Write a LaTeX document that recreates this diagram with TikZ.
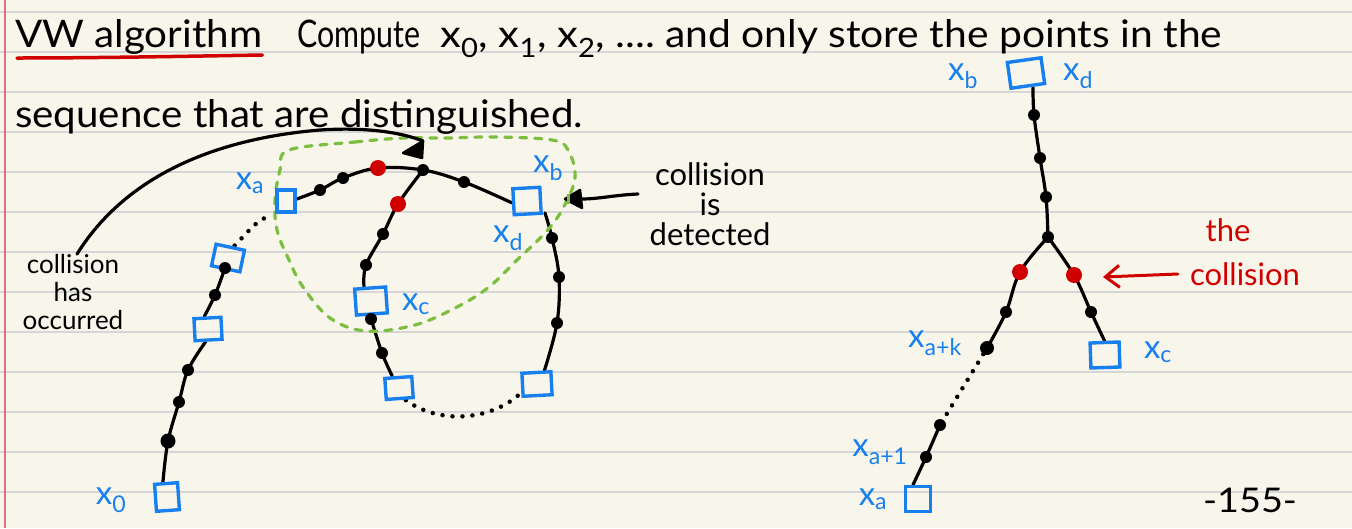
\documentclass[tikz,border=0pt]{standalone}
\usepackage{fontspec}
\setmainfont{Lato}
\usepackage{graphicx}
\usetikzlibrary{arrows.meta}
\pgfdeclarelayer{bglayer}
\pgfdeclarelayer{linelayer}
\pgfsetlayers{bglayer,linelayer,main}
\definecolor{paperc}{RGB}{248,246,234}
\definecolor{rulec}{RGB}{214,214,214}
\definecolor{marginc}{RGB}{228,112,125}
\definecolor{inkblue}{RGB}{24,128,238}
\definecolor{inkred}{RGB}{208,0,0}
\definecolor{inkgreen}{RGB}{124,190,64}
\newcommand{\hwfit}[2]{\resizebox{#1}{\height}{#2}}
\begin{document}
\begin{tikzpicture}[x=1pt,y=-1pt,
  txt/.style={inner sep=0pt, font=\fontsize{38}{40}\selectfont, anchor=base west},
  lbl/.style={inner sep=0pt, text=inkblue, font=\fontsize{33}{35}\selectfont},
  note/.style={inner sep=0pt, font=\fontsize{26}{28}\selectfont, align=center},
  sbox/.style={draw=inkblue, line width=3.4pt, inner sep=0pt, minimum width=24pt, minimum height=24pt},
  bdot/.style={circle, fill=black, inner sep=0pt, minimum size=12pt},
  rdot/.style={circle, fill=inkred, inner sep=0pt, minimum size=16pt},
  ink/.style={line width=3.2pt, line cap=round, line join=round},
  dotline/.style={line width=4.5pt, line cap=round, dash pattern=on 0pt off 10pt},
  gdash/.style={draw=inkgreen, line width=3.2pt, dash pattern=on 7pt off 8pt, line cap=round},
]
\useasboundingbox (0,0) rectangle (1352,528);
\begin{pgfonlayer}{bglayer}
  \fill[paperc] (0,0) rectangle (1352,528);
  \foreach \yy in {12,52,...,492} \draw[rulec, line width=1.6pt] (0,\yy) -- (1352,\yy);
  \draw[marginc, line width=1.6pt] (5,0) -- (5,528);
\end{pgfonlayer}

% heading text
\node[txt] (t1) at (15,47) {\hwfit{247pt}{VW algorithm}};
\node[txt] (t2) at (297,47) {\hwfit{123pt}{Compute}};
\node[txt] (t3) at (440,47) {\hwfit{215pt}{x\textsubscript{0}, x\textsubscript{1}, x\textsubscript{2}, ....}};
\node[txt] (t4) at (665,47) {\hwfit{557pt}{and only store the points in the}};
\node[txt] (t5) at (15,127) {\hwfit{568pt}{sequence that are distinguished.}};
\draw[inkred, line width=3.5pt, line cap=round] ([shift={(2pt,-11pt)}]t1.base west) .. controls (100,58) and (200,56) .. ([shift={(0pt,-8pt)}]t1.base east);

% left diagram nodes
\node[sbox, minimum width=23pt, minimum height=27pt, rotate=4] (x0) at (167,497) {};
\node[lbl] (lx0) at (111,500) {x\textsubscript{0}};
\node[bdot, minimum size=15pt] (a1) at (168,441) {};
\node[bdot] (a2) at (179,402) {};
\node[bdot] (a3) at (188,370) {};
\node[sbox, minimum width=27pt, minimum height=22pt, rotate=3] (b1) at (208,329) {};
\node[bdot] (a4) at (215,295) {};
\node[sbox, minimum width=29pt, minimum height=22pt, rotate=-12] (b2) at (228,258) {};
\node[bdot] (a5) at (225,268) {};
\node[sbox, minimum width=18pt, minimum height=22pt] (xa) at (286,201) {};
\node[lbl] (lxa) at (250,183) {x\textsubscript{a}};
\node[bdot] (a6) at (320,190) {};
\node[bdot] (a7) at (343,178) {};
\node[rdot] (r1) at (378,168) {};
\node[bdot] (j1) at (423,170) {};
\node[bdot] (a8) at (464,182) {};
\node[sbox, minimum width=27pt, minimum height=26pt, rotate=3] (xb) at (527,201) {};
\node[lbl] (lxb) at (548,168) {x\textsubscript{b}};
\node[lbl] (lxd) at (508,238) {x\textsubscript{d}};
\node[rdot] (r2) at (398,204) {};
\node[bdot] (a9) at (383,234) {};
\node[bdot] (a10) at (366,265) {};
\node[sbox, minimum width=31pt, minimum height=26pt, rotate=4] (xc) at (371,301) {};
\node[lbl] (lxc) at (416,304) {x\textsubscript{c}};
\node[bdot] (a11) at (371,319) {};
\node[bdot] (a12) at (382,353) {};
\node[sbox, minimum width=27pt, minimum height=21pt, rotate=4] (b3) at (399,388) {};
\node[sbox, minimum width=29pt, minimum height=23pt, rotate=3] (b4) at (537,384) {};
\node[bdot] (a13) at (557,323) {};
\node[bdot] (a14) at (559,277) {};
\node[bdot] (a15) at (552,238) {};

\node[note] (coll1) at (73,292) {collision\\has\\occurred};
\node[note, font=\fontsize{31}{30}\selectfont] (coll2) at (710,204) {collision\\is\\detected};
\coordinate (h1) at (423,141);
\coordinate (s2) at (638,194);
\coordinate (h2) at (582,199);

% right diagram nodes
\node[sbox, minimum width=34pt, minimum height=26pt, rotate=8] (T) at (1026,73) {};
\node[lbl] (lT1) at (963,76) {x\textsubscript{b}};
\node[lbl] (lT2) at (1078,76) {x\textsubscript{d}};
\node[bdot] (c1) at (1034,115) {};
\node[bdot] (c2) at (1040,158) {};
\node[bdot] (c3) at (1046,197) {};
\node[bdot] (j2) at (1048,237) {};
\node[rdot] (rL) at (1020,272) {};
\node[bdot] (c4) at (1006,312) {};
\node[bdot, minimum size=14pt] (c5) at (987,348) {};
\node[bdot] (c6) at (940,425) {};
\node[bdot] (c7) at (926,457) {};
\node[sbox, minimum width=25pt, minimum height=25pt] (XA) at (918,499) {};
\node[rdot] (rR) at (1074,275) {};
\node[bdot] (c8) at (1091,312) {};
\node[sbox, minimum width=29pt, minimum height=25pt, rotate=2] (XC) at (1105,355) {};
\node[lbl] (lak) at (935,343) {x\textsubscript{a+k}};
\node[lbl] (lXC) at (1158,352) {x\textsubscript{c}};
\node[lbl] (la1) at (880,452) {x\textsubscript{a+1}};
\node[lbl] (lXA) at (873,499) {x\textsubscript{a}};
\node[inner sep=0pt, text=inkred, font=\fontsize{31}{30}\selectfont] (the) at (1228,230) {the};
\node[inner sep=0pt, text=inkred, font=\fontsize{31}{30}\selectfont] (coll3) at (1245,274) {collision};
\coordinate (rtip) at (1103,277);
\node[inner sep=0pt, font=\fontsize{34}{36}\selectfont] (pg) at (1250,500) {\hwfit{94pt}{-155-}};

\begin{pgfonlayer}{linelayer}
  % left chain
  \draw[ink] plot[smooth, tension=0.6] coordinates {([xshift=-3pt]x0.north) (a1) (a2) (a3) ([xshift=-3pt]b1.south)};
  \draw[ink] plot[smooth, tension=0.6] coordinates {([xshift=-3pt]b1.north) (a4) (a5)};
  \draw[dotline] ([xshift=4pt]b2.north) .. controls (248,232) and (262,214) .. ([shift={(-4pt,-4pt)}]xa.south west);
  \draw[ink] plot[smooth, tension=0.6] coordinates {([yshift=2pt]xa.east) (a6) (a7) (r1) (j1) (a8) ([yshift=-1pt]xb.west)};
  \draw[ink] plot[smooth, tension=0.6] coordinates {(j1) (r2) (a9) (a10) ([xshift=-6pt]xc.north)};
  \draw[ink] plot[smooth, tension=0.6] coordinates {([xshift=-3pt]xc.south) (a11) (a12) ([xshift=-6pt]b3.north)};
  \draw[dotline] ([xshift=6pt]b3.south) .. controls (440,425) and (490,420) .. ([shift={(-3pt,3pt)}]b4.south west);
  \draw[ink] plot[smooth, tension=0.6] coordinates {([xshift=8pt]b4.north) (a13) (a14) (a15) ([shift={(2pt,2pt)}]xb.south east)};
  % green region
  \draw[gdash] plot[smooth cycle, tension=0.6] coordinates {(289,150) (355,142) (404,138) (446,138) (496,137) (552,140) (568,150) (575,178) (562,210) (545,233) (517,260) (489,287) (457,307) (415,325) (366,331) (330,318) (303,287) (289,260) (277,230) (275,200) (280,170)};
  % arrows
  \draw[ink] ([xshift=4pt]coll1.north) .. controls (120,185) and (200,140) .. (320,130) .. controls (365,127) and (400,132) .. (h1);
  \draw[ink] (s2) .. controls (615,195) and (598,199) .. (h2);
  % right chain
  \draw[ink] plot[smooth, tension=0.6] coordinates {([xshift=5pt]T.south) (c1) (c2) (c3) (j2)};
  \draw[ink] plot[smooth, tension=0.6] coordinates {(j2) (rL) (c4) (c5)};
  \draw[dotline] (c5) -- (c6);
  \draw[ink] plot[smooth, tension=0.6] coordinates {(c6) (c7) ([xshift=-5pt]XA.north)};
  \draw[ink] plot[smooth, tension=0.6] coordinates {(j2) (rR) (c8) (XC.north)};
\end{pgfonlayer}
% arrow heads
\fill[black, line join=round] (h1) -- (403,153) -- (422,158) -- cycle;
\draw[line width=2.5pt, line join=round] (h1) -- (403,153) -- (422,158) -- cycle;
\fill[black] (580,190) -- (565,199) -- (582,208) -- cycle;
\draw[line width=2.5pt, line join=round] (580,190) -- (565,199) -- (582,208) -- cycle;
\draw[inkgreen, line width=3pt] (568,194) -- (568,204);
\draw[inkred, line width=3pt, line cap=round, -{Straight Barb[length=14pt, width=22pt, line width=3pt]}] ([xshift=-12pt]coll3.west) -- (rtip);
\end{tikzpicture}
\end{document}
